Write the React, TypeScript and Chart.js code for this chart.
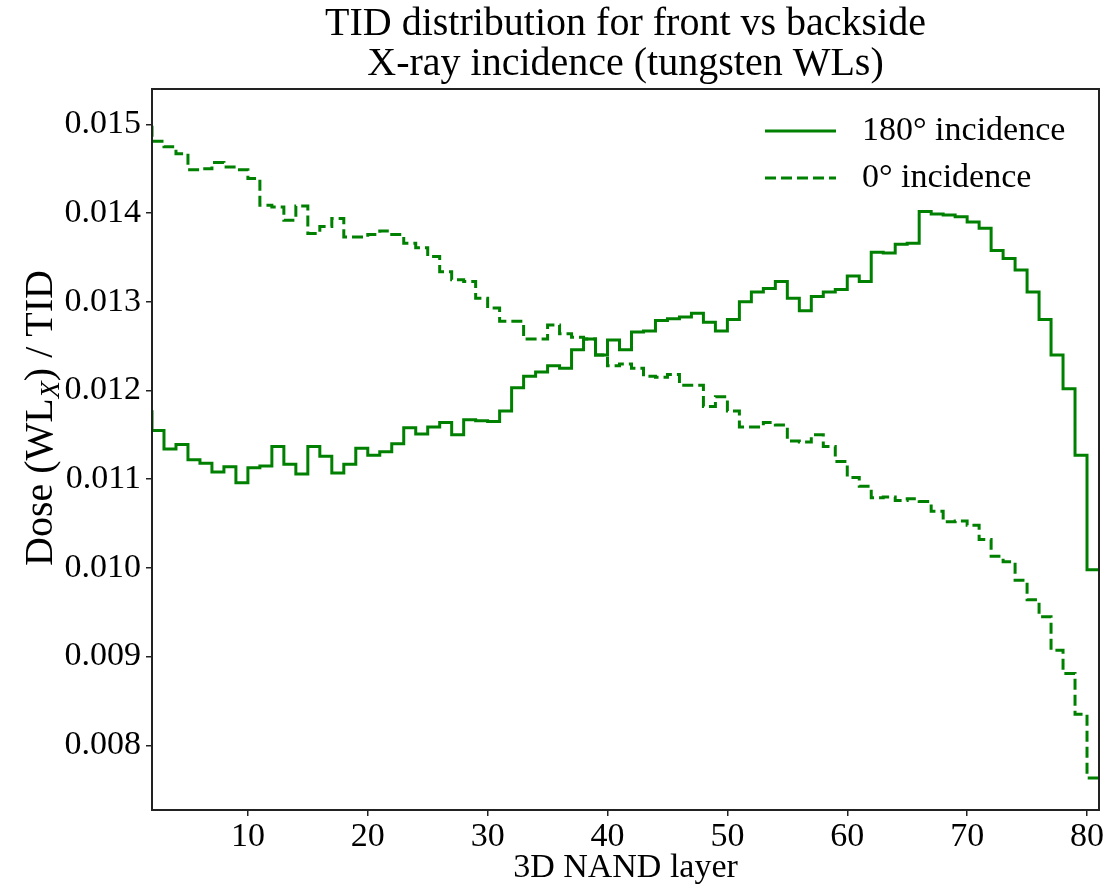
import React, { useEffect, useRef } from 'react';
import { Chart, registerables } from 'chart.js';

Chart.register(...registerables);

// Left edge of each NAND layer bin (bin k spans k .. k+1)
const layerStart = [
  1, 2, 3, 4, 5, 6, 7, 8, 9, 10, 11, 12, 13, 14, 15, 16, 17, 18, 19, 20,
  21, 22, 23, 24, 25, 26, 27, 28, 29, 30, 31, 32, 33, 34, 35, 36, 37, 38, 39, 40,
  41, 42, 43, 44, 45, 46, 47, 48, 49, 50, 51, 52, 53, 54, 55, 56, 57, 58, 59, 60,
  61, 62, 63, 64, 65, 66, 67, 68, 69, 70, 71, 72, 73, 74, 75, 76, 77, 78, 79, 80,
];
const lastEdge = 81;

const dose180 = [
  0.01176, 0.01155, 0.01134, 0.01139, 0.01122, 0.01118, 0.01108, 0.01114, 0.01096, 0.01113,
  0.01115, 0.01137, 0.01117, 0.01106, 0.01137, 0.01126, 0.01107, 0.01117, 0.01135, 0.01127,
  0.01131, 0.0114, 0.01158, 0.01151, 0.01159, 0.01164, 0.0115, 0.01167, 0.01166, 0.01165,
  0.01177, 0.01203, 0.01216, 0.01221, 0.01228, 0.01225, 0.01246, 0.01258, 0.0124, 0.01257,
  0.01246, 0.01266, 0.01267, 0.01279, 0.01281, 0.01283, 0.01287, 0.01277, 0.01267, 0.0128,
  0.013, 0.01311, 0.01315, 0.01323, 0.01304, 0.0129, 0.01306, 0.01311, 0.01314, 0.01329,
  0.01323, 0.01356, 0.01355, 0.01365, 0.01366, 0.01402, 0.01399, 0.01398, 0.01396, 0.0139,
  0.01383, 0.01358, 0.01349, 0.01336, 0.01311, 0.0128, 0.0124, 0.01202, 0.01127, 0.00998,
];

const dose0 = [
  0.01503, 0.01481, 0.01475, 0.01467, 0.01449, 0.0145, 0.01457, 0.01452, 0.01449, 0.01439,
  0.01409, 0.01407, 0.01392, 0.01408, 0.01377, 0.01385, 0.01394, 0.01373, 0.01373, 0.01376,
  0.0138, 0.01376, 0.01366, 0.01361, 0.01351, 0.01334, 0.01325, 0.01323, 0.01304, 0.01293,
  0.01278, 0.01278, 0.01258, 0.01258, 0.01274, 0.01264, 0.0126, 0.01258, 0.0124, 0.01228,
  0.0123, 0.01225, 0.01216, 0.01215, 0.01218, 0.01206, 0.01206, 0.01182, 0.01193, 0.01177,
  0.01159, 0.01159, 0.01164, 0.01161, 0.01143, 0.01142, 0.0115, 0.01137, 0.0112, 0.01102,
  0.01092, 0.01079, 0.0108, 0.01076, 0.01078, 0.01075, 0.01064, 0.01052, 0.01053, 0.01048,
  0.01032, 0.01013, 0.01007, 0.00986, 0.00964, 0.00945, 0.00907, 0.00881, 0.00835, 0.00763,
];

const seriesLabels = ['180° incidence', '0° incidence'];
const xTicks = [10, 20, 30, 40, 50, 60, 70, 80];
const yTicks = [0.008, 0.009, 0.01, 0.011, 0.012, 0.013, 0.014, 0.015];
const titleLines = ['TID distribution for front vs backside', 'X-ray incidence (tungsten WLs)'];
const xAxisLabel = '3D NAND layer';
const yLabelParts = ['Dose (WL', 'X', ') / TID'];

const SERIF = "'Liberation Serif', 'Times New Roman', serif";
const GREEN = '#008000';

function toSteps(values: number[]) {
  const pts = layerStart.map((x, i) => ({ x, y: values[i] }));
  pts.push({ x: lastEdge, y: values[values.length - 1] });
  return pts;
}

const framePlugin = {
  id: 'frame',
  afterDatasetsDraw(chart: any) {
    const { ctx, chartArea: a } = chart;
    ctx.save();
    ctx.strokeStyle = '#222';
    ctx.lineWidth = 2;
    ctx.strokeRect(a.left, a.top, a.right - a.left, a.bottom - a.top);
    ctx.restore();
  },
};

const yTitlePlugin = {
  id: 'yTitle',
  afterDraw(chart: any) {
    const { ctx } = chart;
    const size = 40;
    const subSize = 28;
    const normal = `${size}px ${SERIF}`;
    const sub = `italic ${subSize}px ${SERIF}`;
    ctx.save();
    ctx.font = normal;
    const w0 = ctx.measureText(yLabelParts[0]).width;
    const w2 = ctx.measureText(yLabelParts[2]).width;
    ctx.font = sub;
    const w1 = ctx.measureText(yLabelParts[1]).width;
    const total = w0 + w1 + w2;
    ctx.translate(39, 418);
    ctx.rotate(-Math.PI / 2);
    ctx.fillStyle = '#000';
    ctx.textBaseline = 'alphabetic';
    ctx.textAlign = 'left';
    let x = -total / 2;
    const base = size * 0.33;
    ctx.font = normal;
    ctx.fillText(yLabelParts[0], x, base);
    x += w0;
    ctx.font = sub;
    ctx.fillText(yLabelParts[1], x, base + size * 0.18);
    x += w1;
    ctx.font = normal;
    ctx.fillText(yLabelParts[2], x, base);
    ctx.restore();
  },
};

const legendPlugin = {
  id: 'insideLegend',
  afterDraw(chart: any) {
    const { ctx } = chart;
    const rowsY = [131, 178];
    ctx.save();
    chart.data.datasets.forEach((ds: any, i: number) => {
      const y = rowsY[i];
      ctx.strokeStyle = ds.borderColor;
      ctx.lineWidth = ds.borderWidth;
      ctx.setLineDash(ds.borderDash || []);
      ctx.beginPath();
      ctx.moveTo(765, y);
      ctx.lineTo(836, y);
      ctx.stroke();
      ctx.setLineDash([]);
      ctx.fillStyle = '#000';
      ctx.font = `34px ${SERIF}`;
      ctx.textBaseline = 'middle';
      ctx.textAlign = 'left';
      ctx.fillText(ds.label, 862, y);
    });
    ctx.restore();
  },
};

export default function App() {
  const canvasRef = useRef<HTMLCanvasElement | null>(null);

  useEffect(() => {
    if (!canvasRef.current) return;
    const chart = new Chart(canvasRef.current, {
      type: 'line',
      data: {
        datasets: [
          {
            label: seriesLabels[0],
            data: toSteps(dose180),
            borderColor: GREEN,
            borderWidth: 3,
            stepped: 'before',
            pointRadius: 0,
            fill: false,
          },
          {
            label: seriesLabels[1],
            data: toSteps(dose0),
            borderColor: GREEN,
            borderWidth: 3,
            borderDash: [11, 5],
            stepped: 'before',
            pointRadius: 0,
            fill: false,
          },
        ],
      },
      options: {
        animation: false,
        responsive: false,
        maintainAspectRatio: false,
        layout: { padding: { left: 0, right: 16, top: 0, bottom: 0 } },
        plugins: {
          legend: { display: false },
          tooltip: { enabled: false },
          title: {
            display: true,
            fullSize: false,
            text: titleLines,
            color: '#000',
            font: { family: SERIF, size: 40, weight: 'normal', lineHeight: '40px' },
            padding: { top: 4, bottom: 5 },
          },
        },
        scales: {
          x: {
            type: 'linear',
            min: 2,
            max: 81,
            afterBuildTicks: (s: any) => {
              s.ticks = xTicks.map((v) => ({ value: v }));
            },
            afterFit: (s: any) => {
              s.height = 76;
            },
            ticks: {
              color: '#000',
              font: { family: SERIF, size: 34, lineHeight: 1.0 },
              padding: 4,
              maxRotation: 0,
              autoSkip: false,
              callback: (v: any) => String(v),
            },
            grid: { drawOnChartArea: false, drawTicks: true, tickLength: 6, color: '#222', lineWidth: 1.5 },
            border: { display: false },
            title: {
              display: true,
              text: xAxisLabel,
              color: '#000',
              font: { family: SERIF, size: 34, lineHeight: 1.0 },
              padding: { top: 0, bottom: 1 },
            },
          },
          y: {
            type: 'linear',
            min: 0.00727,
            max: 0.0154,
            afterBuildTicks: (s: any) => {
              s.ticks = yTicks.map((v) => ({ value: v }));
            },
            afterFit: (s: any) => {
              s.width = 152;
            },
            ticks: {
              color: '#000',
              font: { family: SERIF, size: 34 },
              padding: 5,
              callback: (v: any) => Number(v).toFixed(3),
            },
            grid: { drawOnChartArea: false, drawTicks: true, tickLength: 6, color: '#222', lineWidth: 1.5 },
            border: { display: false },
          },
        },
      },
      plugins: [framePlugin, yTitlePlugin, legendPlugin],
    });
    return () => chart.destroy();
  }, []);

  return (
    <div style={{ position: 'fixed', left: 0, top: 0, width: 1115, height: 886, background: '#fff' }}>
      <canvas ref={canvasRef} width={1115} height={886} style={{ width: 1115, height: 886, display: 'block' }} />
    </div>
  );
}
